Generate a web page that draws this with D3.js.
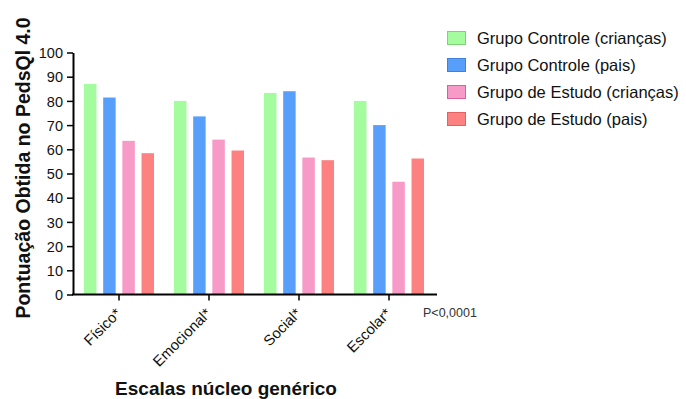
<!DOCTYPE html>
<html>
<head>
<meta charset="utf-8">
<script src="https://cdn.jsdelivr.net/npm/d3@7"></script>
<style>
html,body{margin:0;padding:0;background:#fff;}
svg{display:block;font-family:"Liberation Sans", Arial, sans-serif;}
</style>
</head>
<body>
<svg id="chart" width="686" height="399"></svg>
<script>
const categories = ["Físico*", "Emocional*", "Social*", "Escolar*"];
const seriesNames = ["Grupo Controle (crianças)", "Grupo Controle (pais)", "Grupo de Estudo (crianças)", "Grupo de Estudo (pais)"];
const controleCriancas = [87, 80, 83.3, 80];
const controlePais = [81.4, 73.6, 84, 70];
const estudoCriancas = [63.5, 64, 56.6, 46.6];
const estudoPais = [58.4, 59.5, 55.5, 56.2];
const yTicks = [0, 10, 20, 30, 40, 50, 60, 70, 80, 90, 100];
const seriesValues = [controleCriancas, controlePais, estudoCriancas, estudoPais];

const fills = ["#a4fc9f", "#589ffb", "#f79ac8", "#fd8181"];
const strokes = ["#7fd27a", "#3f82d8", "#d9609f", "#e06262"];

const svg = d3.select("#chart");
const mLeft = 73, mRight = 437, mTop = 52.5, mBottom = 294.5;

const x0 = d3.scaleBand().domain(categories).range([74, 434]).padding(0);
const x1 = d3.scaleBand().domain(seriesNames).range([0, 70]).paddingInner(0.35).paddingOuter(0);
const y = d3.scaleLinear().domain([0, 100]).range([mBottom, mTop]);

// bars
categories.forEach((c, ci) => {
  const cx = x0(c) + x0.bandwidth() / 2 - 35;
  seriesNames.forEach((s, si) => {
    const v = seriesValues[si][ci];
    svg.append("rect")
      .attr("x", cx + x1(s))
      .attr("y", y(v))
      .attr("width", x1.bandwidth())
      .attr("height", y(0) - y(v))
      .attr("fill", fills[si]);
  });
});

// y axis
const yAxis = svg.append("g").attr("transform", `translate(${mLeft},0)`)
  .call(d3.axisLeft(y).tickValues(yTicks).tickSize(6).tickSizeOuter(0).tickPadding(4));
yAxis.select(".domain").attr("stroke", "#000").attr("stroke-width", 2);
yAxis.selectAll(".tick line").attr("stroke", "#000").attr("stroke-width", 1.5);
yAxis.selectAll(".tick text").attr("font-size", 14.5).attr("fill", "#111")
  .attr("font-family", "Liberation Sans, Arial, sans-serif").attr("dy", "0.36em");

// x axis
const xAxis = svg.append("g").attr("transform", `translate(0,${mBottom})`)
  .call(d3.axisBottom(x0).tickSize(6).tickSizeOuter(0).tickFormat(""));
xAxis.select(".domain").attr("d", `M${mLeft - 1},0H${mRight}`).attr("stroke", "#000").attr("stroke-width", 2);
xAxis.selectAll(".tick line").attr("stroke", "#000").attr("stroke-width", 1.5);
xAxis.selectAll(".tick").append("text")
  .attr("fill", "#111")
  .attr("font-size", 14.8)
  .attr("font-family", "Liberation Sans, Arial, sans-serif")
  .attr("text-anchor", "end")
  .attr("transform", "translate(3,20) rotate(-45)")
  .text(d => d);

// p-value
svg.append("text").attr("x", 423).attr("y", 317).attr("font-size", 12.5)
  .attr("fill", "#333").text("P<0,0001");

// axis titles
svg.append("text").attr("transform", "translate(30,168) rotate(-90)")
  .attr("text-anchor", "middle").attr("font-size", 19.5).attr("font-weight", "bold")
  .attr("fill", "#111").text("Pontuação Obtida no PedsQl 4.0");
svg.append("text").attr("x", 226).attr("y", 395)
  .attr("text-anchor", "middle").attr("font-size", 19).attr("font-weight", "bold")
  .attr("fill", "#111").text("Escalas núcleo genérico");

// legend
const legend = svg.append("g");
seriesNames.forEach((s, i) => {
  const cy = 38 + i * 27;
  legend.append("rect").attr("x", 447.5).attr("y", cy - 6.5).attr("width", 18).attr("height", 13)
    .attr("fill", fills[i]).attr("stroke", strokes[i]).attr("stroke-width", 1);
  legend.append("text").attr("x", 477).attr("y", cy).attr("dy", "0.35em")
    .attr("font-size", 16.5).attr("fill", "#111").text(s);
});
</script>
</body>
</html>
